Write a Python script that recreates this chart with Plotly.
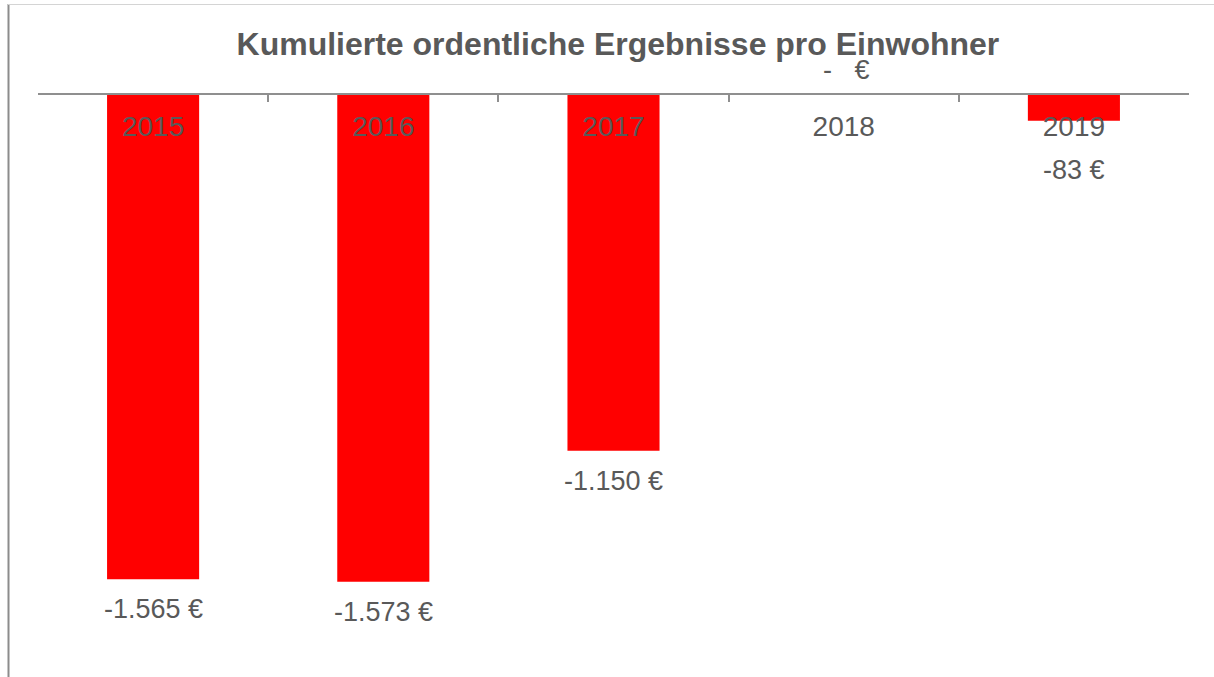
import plotly.graph_objects as go

years = ["2015", "2016", "2017", "2018", "2019"]
values = [-1565, -1573, -1150, 0, -83]
title_text = "Kumulierte ordentliche Ergebnisse pro Einwohner"


def fmt(v):
    if v == 0:
        return "-   €"
    s = f"{abs(v):,}".replace(",", ".")
    return ("-" if v < 0 else "") + s + " €"


labels = [fmt(v) for v in values]

W, H = 1214, 677
ml, mr, mt, mb = 38, 25, 95, 25
pw = W - ml - mr
ph = H - mt - mb
YMIN = -1800
scale = ph / abs(YMIN)  # px per unit

TXT = "#595959"
FONT = "Liberation Sans, Arial, sans-serif"

fig = go.Figure()
fig.add_trace(go.Bar(
    x=years, y=values, width=0.4,
    marker=dict(color="#FF0000", line=dict(width=0)),
    hoverinfo="skip",
))

# category axis: annotation x given as category index
for i, (v, lab) in enumerate(zip(values, labels)):
    if v == 0:
        ys, xs = 25, 3
    else:
        bar_px = abs(v) * scale
        ys = -(max(bar_px + 30, 75) - bar_px)
        xs = 0
    fig.add_annotation(
        x=i, y=v, xref="x", yref="y", text=lab, showarrow=False,
        yshift=ys, xshift=xs,
        font=dict(size=27, color=TXT, family=FONT),
    )


def px_x(p):
    return (p - ml) / pw


def px_y(p):
    return 1 - (p - mt) / ph


shapes = [
    dict(type="line", xref="paper", yref="paper",
         x0=px_x(8.5), x1=px_x(8.5), y0=px_y(4), y1=px_y(H + 5),
         line=dict(color="#8c8c8c", width=2)),
    dict(type="line", xref="paper", yref="paper",
         x0=px_x(8), x1=px_x(W + 5), y0=px_y(4.5), y1=px_y(4.5),
         line=dict(color="#d4d4d4", width=1)),
]

fig.update_layout(
    width=W, height=H,
    margin=dict(l=ml, r=mr, t=mt, b=mb),
    paper_bgcolor="white", plot_bgcolor="white",
    showlegend=False,
    title=dict(text="<b>" + title_text + "</b>", x=0.509, xref="container",
               xanchor="center", y=1 - 44 / H, yref="container", yanchor="middle",
               font=dict(size=32, color=TXT, family=FONT)),
    xaxis=dict(
        type="category", side="top", range=[-0.5, 4.5],
        showline=True, linecolor="#8f8f8f", linewidth=2,
        ticks="inside", tickson="boundaries", ticklen=7, tickwidth=2, tickcolor="#8f8f8f",
        ticklabelposition="inside", ticklabelstandoff=17,
        tickfont=dict(size=28, color=TXT, family=FONT),
        showgrid=False, zeroline=False, fixedrange=True,
    ),
    yaxis=dict(range=[YMIN, 0], showticklabels=False, ticks="", showline=False,
               showgrid=False, zeroline=False, fixedrange=True),
    shapes=shapes,
)

fig.write_html("out.html", config={"displayModeBar": False},
               post_script="document.body.style.margin='0';")
